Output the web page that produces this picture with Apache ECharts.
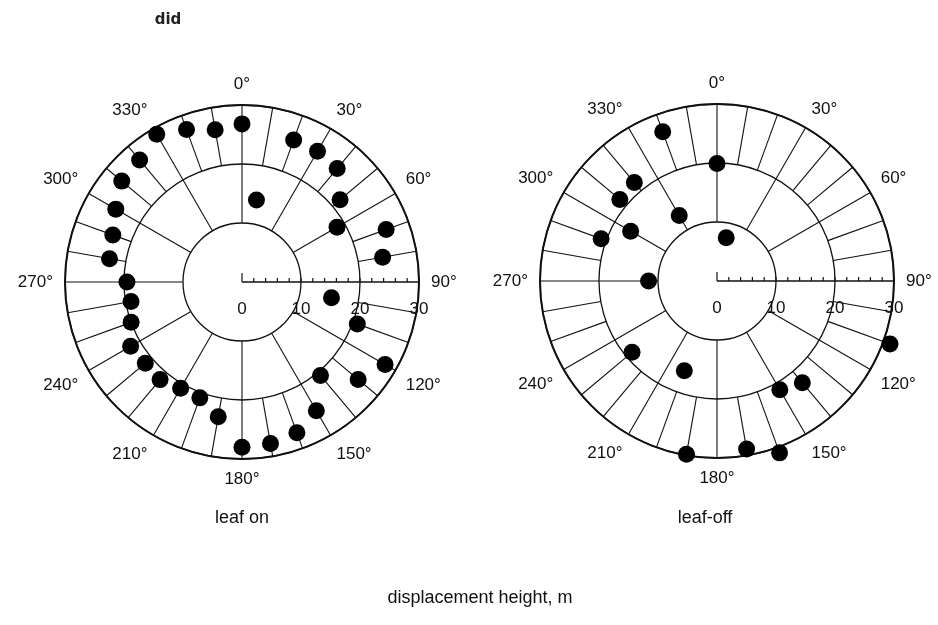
<!DOCTYPE html>
<html>
<head>
<meta charset="utf-8">
<script src="https://cdn.jsdelivr.net/npm/echarts@6/dist/echarts.min.js"></script>
<style>
html,body{margin:0;padding:0;background:#fff;}
#chart{width:938px;height:625px;}
</style>
</head>
<body>
<div id="chart"></div>
<script>
// ---- data (wind direction in degrees, displacement height in m) ----
const leafOnAngles  = [0, 10, 20, 30, 40, 50, 60, 70, 80, 100, 110, 120, 130, 140, 150, 160, 170, 180,
                       190, 200, 210, 220, 230, 240, 250, 260, 270, 280, 290, 300, 310, 320, 330, 340, 350];
const leafOnHeights = [26.8, 14.1, 25.6, 25.6, 25.1, 21.7, 18.6, 26.0, 24.2, 15.4, 20.8, 28.0, 25.7, 20.7, 25.2, 27.2, 27.8, 28.0,
                       23.2, 20.9, 20.8, 21.6, 21.4, 21.8, 20.0, 19.1, 19.5, 22.8, 23.3, 24.7, 26.6, 27.0, 28.9, 27.5, 26.2];

const leafOffAngles  = [0, 12, 110, 140, 150, 160, 170, 190, 200, 230, 270, 290, 300, 310, 320, 330, 340];
const leafOffHeights = [19.9, 7.5, 31.2, 22.5, 21.3, 31.0, 28.9, 29.8, 16.2, 18.8, 11.6, 20.9, 16.9, 21.5, 21.8, 12.8, 26.9];

const angleTickLabels = [0, 30, 60, 90, 120, 150, 180, 210, 240, 270, 300, 330];
const scaleLabels = [0, 10, 20, 30];
const panelTitles = ['leaf on', 'leaf-off'];
const axisTitle = 'displacement height, m';
const cornerText = 'did';

// ---- structure ----
const R_MAX = 30;
const FONT = 'Liberation Sans, Arial, sans-serif';
const INK = '#111';

// spokes: every 10 deg in the outer band (20-30), every 30 deg from 10 to 30 (except 90 where the scale sits)
function spokeData() {
  const out = [];
  for (let a = 0; a < 360; a += 10) {
    if (a === 90) continue;
    if (a % 30 === 0) out.push([10, a, R_MAX]);
    else out.push([20, a, R_MAX]);
  }
  return out;
}
function scaleTickData() {
  const out = [];
  for (let r = 0; r <= R_MAX; r += 2) out.push([r, 90]);
  return out;
}

function spokeSeries(idx) {
  return {
    type: 'custom', coordinateSystem: 'polar', polarIndex: idx, silent: true, z: 1,
    data: spokeData(),
    renderItem: function (params, api) {
      const p0 = api.coord([api.value(0), api.value(1)]);
      const p1 = api.coord([api.value(2), api.value(1)]);
      return { type: 'line', shape: { x1: p0[0], y1: p0[1], x2: p1[0], y2: p1[1] },
               style: { stroke: INK, lineWidth: 1.1 } };
    }
  };
}
function scaleSeries(idx) {
  return {
    type: 'custom', coordinateSystem: 'polar', polarIndex: idx, silent: true, z: 2,
    data: scaleTickData(),
    renderItem: function (params, api) {
      const r = api.value(0);
      const p = api.coord([r, 90]);
      const children = [];
      const len = r === 0 ? 9 : 4;
      children.push({ type: 'line', shape: { x1: p[0], y1: p[1], x2: p[0], y2: p[1] - len },
                      style: { stroke: INK, lineWidth: 1.2 } });
      if (params.dataIndex === 0) {
        const pe = api.coord([R_MAX, 90]);
        children.push({ type: 'line', shape: { x1: p[0], y1: p[1], x2: pe[0], y2: pe[1] },
                        style: { stroke: INK, lineWidth: 1.6 } });
      }
      if (scaleLabels.indexOf(r) >= 0) {
        children.push({ type: 'text', x: p[0], y: p[1] + 27,
                        style: { text: String(r), fontSize: 17, fontFamily: FONT, fill: INK,
                                 align: 'center', verticalAlign: 'middle' } });
      }
      return { type: 'group', children: children };
    }
  };
}
function dotSeries(idx, angles, heights) {
  return {
    type: 'scatter', coordinateSystem: 'polar', polarIndex: idx, clip: false, z: 5,
    symbol: 'circle', symbolSize: 17,
    itemStyle: { color: '#000', opacity: 1 },
    data: angles.map((a, i) => [heights[i], a])
  };
}

function angleAxis(idx) {
  return {
    polarIndex: idx, type: 'value', min: 0, max: 360, interval: 30,
    startAngle: 90, clockwise: true,
    axisLine: { show: true, lineStyle: { color: INK, width: 2 } },
    axisTick: { show: false },
    splitLine: { show: false },
    axisLabel: {
      margin: 12, fontSize: 17, fontFamily: FONT, color: INK,
      formatter: v => (angleTickLabels.indexOf(v) >= 0 ? v + '°' : '')
    }
  };
}
function radiusAxis(idx) {
  return {
    polarIndex: idx, type: 'value', min: 0, max: R_MAX, interval: 10,
    axisLine: { show: false }, axisTick: { show: false }, axisLabel: { show: false },
    splitLine: { show: true, lineStyle: { color: INK, width: 1.3 } }
  };
}

const chart = echarts.init(document.getElementById('chart'), null, { renderer: 'canvas' });
chart.setOption({
  backgroundColor: '#fff',
  animation: false,
  polar: [
    { center: [242, 282], radius: [0, 177] },
    { center: [717, 281], radius: [0, 177] }
  ],
  angleAxis: [angleAxis(0), angleAxis(1)],
  radiusAxis: [radiusAxis(0), radiusAxis(1)],
  series: [
    spokeSeries(0), spokeSeries(1),
    scaleSeries(0), scaleSeries(1),
    dotSeries(0, leafOnAngles, leafOnHeights),
    dotSeries(1, leafOffAngles, leafOffHeights)
  ],
  graphic: [
    { type: 'text', x: 168, y: 20,
      style: { text: cornerText, fontSize: 15, fontWeight: 'bold', fontFamily: 'DejaVu Sans, sans-serif', fill: '#222',
               align: 'center', verticalAlign: 'middle' } },
    { type: 'text', x: 242, y: 518,
      style: { text: panelTitles[0], fontSize: 18, fontFamily: FONT, fill: INK, align: 'center', verticalAlign: 'middle' } },
    { type: 'text', x: 705, y: 518,
      style: { text: panelTitles[1], fontSize: 18, fontFamily: FONT, fill: INK, align: 'center', verticalAlign: 'middle' } },
    { type: 'text', x: 480, y: 598,
      style: { text: axisTitle, fontSize: 18, fontFamily: FONT, fill: INK, align: 'center', verticalAlign: 'middle' } }
  ]
});
</script>
</body>
</html>
